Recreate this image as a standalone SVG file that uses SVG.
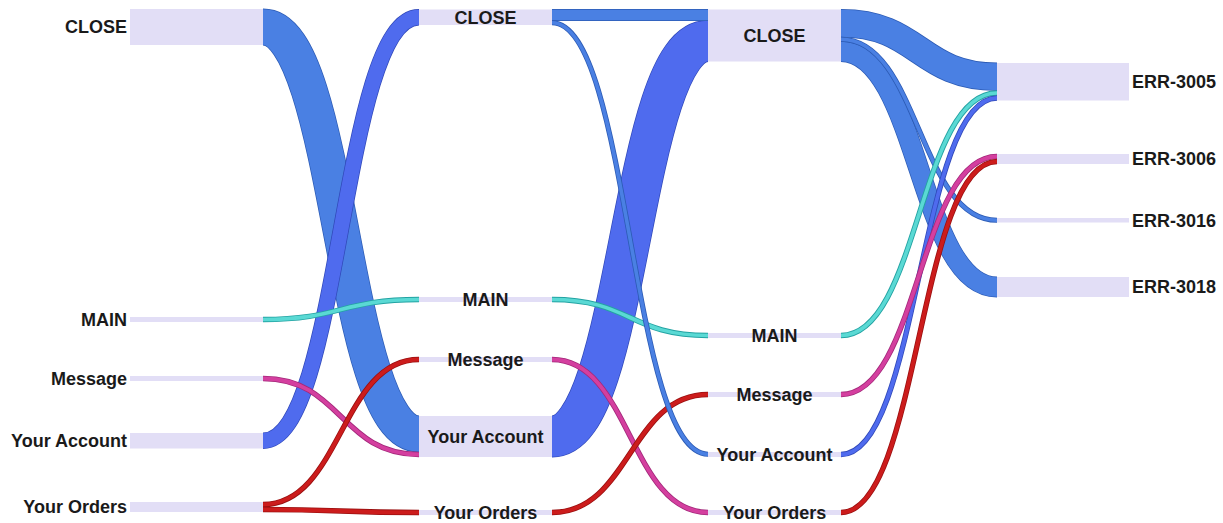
<svg xmlns="http://www.w3.org/2000/svg" width="1223" height="523" viewBox="0 0 1223 523">
  <style>
    .node rect { fill: #e2def6; }
    .node text { font-family: "Liberation Sans", Arial, sans-serif; font-weight: bold; font-size: 18px; fill: #1a1a1a; }
    .l { text-anchor: end; }
    .c { text-anchor: middle; }
    .r { text-anchor: start; }
    #links path { fill: none; stroke-linecap: butt; }
    .close .e { stroke: #2c5bb5; }
    .close .f { stroke: #4a80e3; }
    .acct .e { stroke: #3048b8; }
    .acct .f { stroke: #4f6bee; }
    .main .e { stroke: #23a3a3; }
    .main .f { stroke: #5ad9d4; }
    .msg .e { stroke: #a3287a; }
    .msg .f { stroke: #d43f9f; }
    .ord .e { stroke: #9a1010; }
    .ord .f { stroke: #cc1c1c; }
  </style>

  <!-- flows between steps: each is an edge stroke under a body stroke; wide bands first -->
  <g id="links">
    <g class="close"><path class="e" stroke-width="36.8" d="M263,27 C341,27 341,434 419,434"/><path class="f" stroke-width="35.4" d="M263,27 C341,27 341,434 419,434"/></g>
    <g class="acct"><path class="e" stroke-width="16.3" d="M263,440.75 C341,440.75 341,17.25 419,17.25"/><path class="f" stroke-width="14.9" d="M263,440.75 C341,440.75 341,17.25 419,17.25"/></g>
    <g class="acct"><path class="e" stroke-width="41.8" d="M552,436.5 C630,436.5 630,41 708,41"/><path class="f" stroke-width="40.4" d="M552,436.5 C630,436.5 630,41 708,41"/></g>
    <g class="close"><path class="e" stroke-width="11.8" d="M552,15 L708,15"/><path class="f" stroke-width="10.4" d="M552,15 L708,15"/></g>
    <g class="close"><path class="e" stroke-width="28.3" d="M841,23.25 C919,23.25 919,76.75 997,76.75"/><path class="f" stroke-width="26.9" d="M841,23.25 C919,23.25 919,76.75 997,76.75"/></g>
    <g class="close"><path class="e" stroke-width="20.8" d="M841,51.5 C919,51.5 919,287 997,287"/><path class="f" stroke-width="19.4" d="M841,51.5 C919,51.5 919,287 997,287"/></g>
    <g class="close"><path class="e" stroke-width="5.2" d="M841,39.25 C919,39.25 919,220.25 997,220.25"/><path class="f" stroke-width="3.6" d="M841,39.25 C919,39.25 919,220.25 997,220.25"/></g>

    <g class="main"><path class="e" stroke-width="5.4" d="M263,319.5 C341,319.5 341,299.5 419,299.5"/><path class="f" stroke-width="3.6" d="M263,319.5 C341,319.5 341,299.5 419,299.5"/></g>
    <g class="msg"><path class="e" stroke-width="5.4" d="M263,378.5 C341,378.5 341,454.5 419,454.5"/><path class="f" stroke-width="3.8" d="M263,378.5 C341,378.5 341,454.5 419,454.5"/></g>
    <g class="ord"><path class="e" stroke-width="5.4" d="M263,504.5 C341,504.5 341,359.5 419,359.5"/><path class="f" stroke-width="3.8" d="M263,504.5 C341,504.5 341,359.5 419,359.5"/></g>
    <g class="ord"><path class="e" stroke-width="5.4" d="M263,509.5 C341,509.5 341,512.5 419,512.5"/><path class="f" stroke-width="3.8" d="M263,509.5 C341,509.5 341,512.5 419,512.5"/></g>

    <g class="main"><path class="e" stroke-width="5.4" d="M552,299.5 C630,299.5 630,335.5 708,335.5"/><path class="f" stroke-width="3.6" d="M552,299.5 C630,299.5 630,335.5 708,335.5"/></g>
    <g class="msg"><path class="e" stroke-width="5.4" d="M552,359.5 C630,359.5 630,512.5 708,512.5"/><path class="f" stroke-width="3.8" d="M552,359.5 C630,359.5 630,512.5 708,512.5"/></g>
    <g class="ord"><path class="e" stroke-width="5.4" d="M552,512.5 C630,512.5 630,394.5 708,394.5"/><path class="f" stroke-width="3.8" d="M552,512.5 C630,512.5 630,394.5 708,394.5"/></g>
    <g class="close"><path class="e" stroke-width="5.2" d="M552,22.75 C630,22.75 630,454.25 708,454.25"/><path class="f" stroke-width="3.6" d="M552,22.75 C630,22.75 630,454.25 708,454.25"/></g>

    <g class="main"><path class="e" stroke-width="5.4" d="M841,335.5 C919,335.5 919,93 997,93"/><path class="f" stroke-width="3.6" d="M841,335.5 C919,335.5 919,93 997,93"/></g>
    <g class="acct"><path class="e" stroke-width="5.4" d="M841,454.5 C919,454.5 919,98 997,98"/><path class="f" stroke-width="3.8" d="M841,454.5 C919,454.5 919,98 997,98"/></g>
    <g class="msg"><path class="e" stroke-width="5.4" d="M841,394.5 C919,394.5 919,156.5 997,156.5"/><path class="f" stroke-width="3.8" d="M841,394.5 C919,394.5 919,156.5 997,156.5"/></g>
    <g class="ord"><path class="e" stroke-width="5.4" d="M841,512.5 C919,512.5 919,161.5 997,161.5"/><path class="f" stroke-width="3.8" d="M841,512.5 C919,512.5 919,161.5 997,161.5"/></g>
  </g>

  <!-- step 1 -->
  <g id="s1-close" class="node"><rect x="130" y="9" width="133" height="36"/><text class="l" x="127" y="27" dy="0.35em">CLOSE</text></g>
  <g id="s1-main" class="node"><rect x="130" y="317" width="133" height="5"/><text class="l" x="127" y="319.5" dy="0.35em">MAIN</text></g>
  <g id="s1-message" class="node"><rect x="130" y="376" width="133" height="5"/><text class="l" x="127" y="378.5" dy="0.35em">Message</text></g>
  <g id="s1-account" class="node"><rect x="130" y="433" width="133" height="15.5"/><text class="l" x="127" y="441" dy="0.35em">Your Account</text></g>
  <g id="s1-orders" class="node"><rect x="130" y="502" width="133" height="10"/><text class="l" x="127" y="507" dy="0.35em">Your Orders</text></g>

  <!-- step 2 -->
  <g id="s2-close" class="node"><rect x="419" y="9.5" width="133" height="15.5"/><text class="c" x="485.5" y="17.3" dy="0.35em">CLOSE</text></g>
  <g id="s2-main" class="node"><rect x="419" y="297" width="133" height="5"/><text class="c" x="485.5" y="299.5" dy="0.35em">MAIN</text></g>
  <g id="s2-message" class="node"><rect x="419" y="357" width="133" height="5"/><text class="c" x="485.5" y="359.5" dy="0.35em">Message</text></g>
  <g id="s2-account" class="node"><rect x="419" y="416" width="133" height="41"/><text class="c" x="485.5" y="436.5" dy="0.35em">Your Account</text></g>
  <g id="s2-orders" class="node"><rect x="419" y="510" width="133" height="5"/><text class="c" x="485.5" y="512.5" dy="0.35em">Your Orders</text></g>

  <!-- step 3 -->
  <g id="s3-close" class="node"><rect x="708" y="9.5" width="133" height="52"/><text class="c" x="774.5" y="35.5" dy="0.35em">CLOSE</text></g>
  <g id="s3-main" class="node"><rect x="708" y="333" width="133" height="5"/><text class="c" x="774.5" y="335.5" dy="0.35em">MAIN</text></g>
  <g id="s3-message" class="node"><rect x="708" y="392" width="133" height="5"/><text class="c" x="774.5" y="394.5" dy="0.35em">Message</text></g>
  <g id="s3-account" class="node"><rect x="708" y="452" width="133" height="5"/><text class="c" x="774.5" y="454.5" dy="0.35em">Your Account</text></g>
  <g id="s3-orders" class="node"><rect x="708" y="510" width="133" height="5"/><text class="c" x="774.5" y="512.5" dy="0.35em">Your Orders</text></g>

  <!-- error outcomes -->
  <g id="err-3005" class="node"><rect x="997" y="63" width="132" height="37.5"/><text class="r" x="1132" y="82" dy="0.35em">ERR-3005</text></g>
  <g id="err-3006" class="node"><rect x="997" y="154" width="132" height="10"/><text class="r" x="1132" y="159" dy="0.35em">ERR-3006</text></g>
  <g id="err-3016" class="node"><rect x="997" y="218" width="132" height="4.5"/><text class="r" x="1132" y="220.3" dy="0.35em">ERR-3016</text></g>
  <g id="err-3018" class="node"><rect x="997" y="277" width="132" height="20"/><text class="r" x="1132" y="287" dy="0.35em">ERR-3018</text></g>
</svg>
